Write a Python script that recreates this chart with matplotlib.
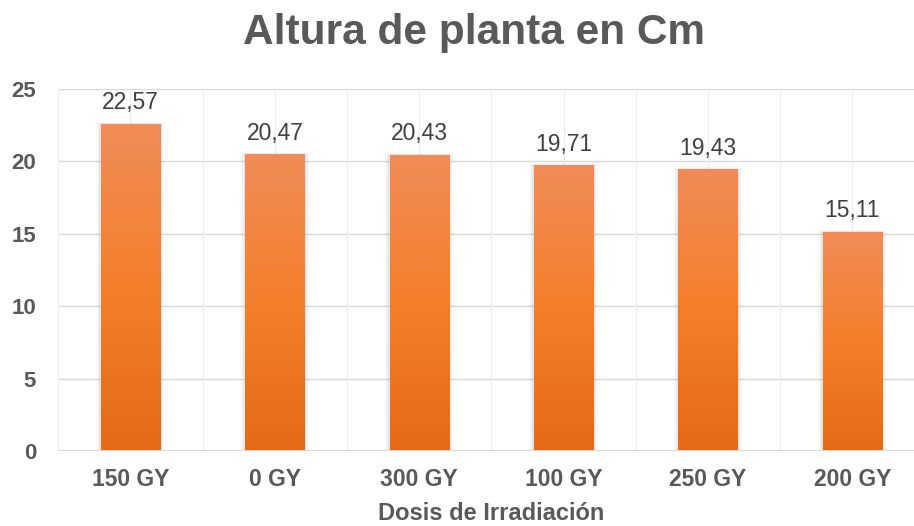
import numpy as np
import matplotlib
matplotlib.use('Agg')
import matplotlib.pyplot as plt
from matplotlib.colors import LinearSegmentedColormap

plt.rcParams['font.family'] = ['Liberation Sans', 'DejaVu Sans']

# data
categories = ['150 GY', '0 GY', '300 GY', '100 GY', '250 GY', '200 GY']
values = [22.57, 20.47, 20.43, 19.71, 19.43, 15.11]
labels = ['22,57', '20,47', '20,43', '19,71', '19,43', '15,11']

fig = plt.figure(figsize=(9.14, 5.26), dpi=100)
ax = fig.add_axes([58.3 / 914, 75 / 526, (914 - 58.3) / 914, 362 / 526])

width = 0.41
x = np.arange(len(categories))
cmap = LinearSegmentedColormap.from_list('og', ['#e46a17', '#f47f2a', '#f08c58'])
grad = np.linspace(0, 1, 256).reshape(-1, 1)

bars = ax.bar(x, values, width=width, color='none', zorder=3)
for b in bars:
    x0, y0 = b.get_x(), b.get_y()
    w, h = b.get_width(), b.get_height()
    # soft shadow
    for k, a in enumerate([0.07, 0.05, 0.03]):
        d = 0.011 * (k + 1)
        ax.add_patch(plt.Rectangle((x0 - d, y0), w + 2 * d, h + d * 5, color='#555555',
                                   alpha=a, lw=0, zorder=2))
    ax.imshow(grad, cmap=cmap, origin='lower', aspect='auto',
              extent=(x0, x0 + w, y0, y0 + h), zorder=3)

for xi, v, lab in zip(x, values, labels):
    ax.text(xi, v + 1.04, lab, ha='center', va='baseline', fontsize=16.5, color='#404040', zorder=4)

ax.set_xlim(-0.5, 5.5 - 10.5 / 144.4)
ax.set_ylim(0, 25)
ax.set_yticks(range(0, 26, 5))
ax.set_xticks(x)
ax.set_xticklabels(categories)
for t in ax.get_xticklabels():
    t.set_fontweight('bold')
    t.set_color('#595959')
    t.set_fontsize(16.5)
for t in ax.get_yticklabels():
    t.set_fontweight('bold')
    t.set_color('#595959')
    t.set_fontsize(16)

# gridlines: horizontal majors, vertical at centres and boundaries
for yv in range(5, 26, 5):
    ax.axhline(yv, color='#d9d9d9', lw=1, zorder=1)
for xv in np.arange(-0.5, 6, 0.5):
    ax.axvline(xv, color='#ececec', lw=1, zorder=1)
ax.axhline(0, color='#d9d9d9', lw=1.5, zorder=5)

for s in ax.spines.values():
    s.set_visible(False)
ax.tick_params(length=0)
ax.tick_params(axis='x', pad=12.5)
ax.tick_params(axis='y', pad=16)

fig.text(491 / 914, 1 / 526, 'Dosis de Irradiación', ha='center', va='bottom',
         fontsize=17, fontweight='bold', color='#595959')
fig.text(474 / 914, (526 - 44) / 526, 'Altura de planta en Cm', ha='center', va='baseline',
         fontsize=30.5, fontweight='bold', color='#595959')

fig.savefig('out.png', dpi=100, facecolor='white')
